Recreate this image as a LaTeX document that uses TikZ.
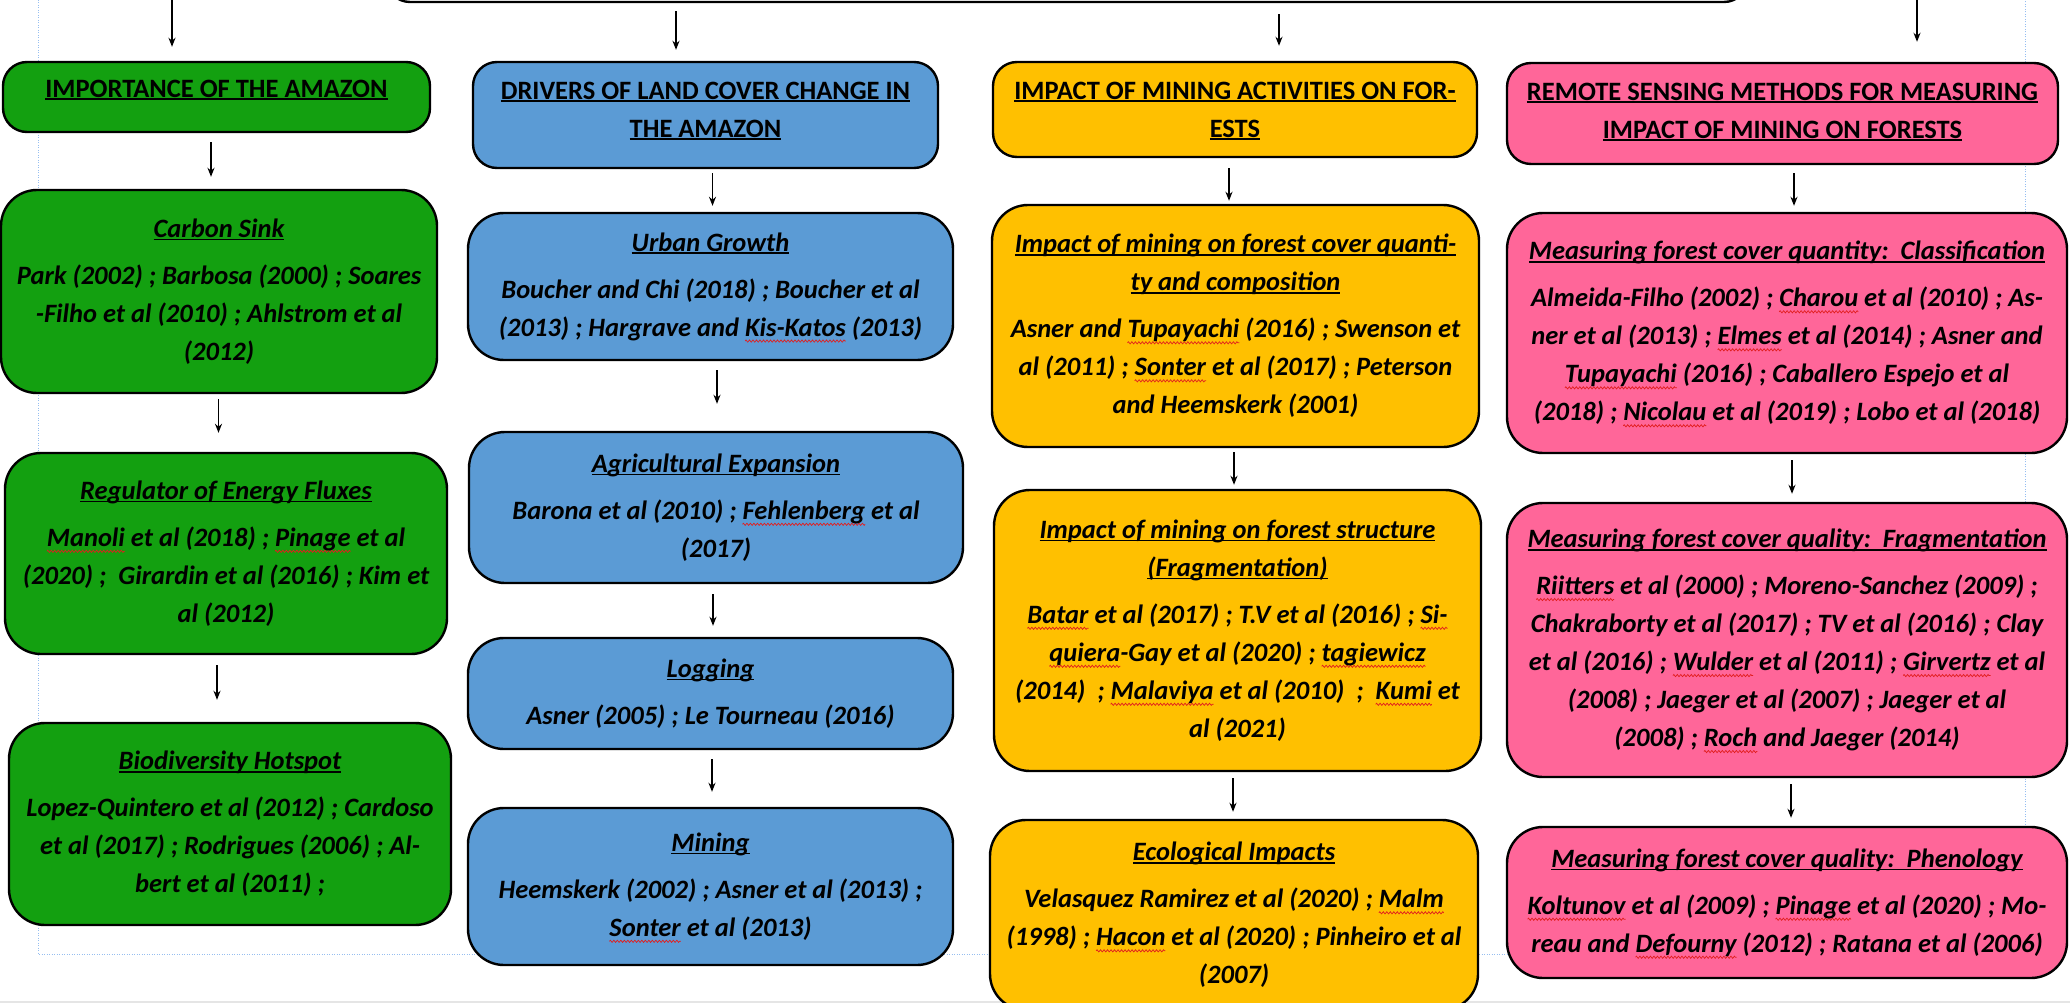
\documentclass[tikz,border=0pt]{standalone}
\usepackage{fontspec}
\setmainfont{Carlito}
\usetikzlibrary{arrows.meta,decorations.pathmorphing}
\definecolor{amzgreen}{RGB}{19,160,16}
\definecolor{amzblue}{RGB}{91,155,213}
\definecolor{amzgold}{RGB}{255,192,0}
\definecolor{amzpink}{RGB}{255,102,153}
\definecolor{marginblue}{RGB}{150,190,240}
\definecolor{spellred}{RGB}{225,30,30}
\newsavebox\sqbox
\newsavebox\ulbox
\newcommand\sq[1]{\sbox\sqbox{#1}\rlap{\tikz[baseline=0pt,x=1pt,y=1pt,sharp corners]{\useasboundingbox (0,0); \draw[spellred, line width=0.7pt, sharp corners, decorate, decoration={zigzag, segment length=3.5pt, amplitude=1.1pt}] (0,-5) -- (\wd\sqbox,-5);}}\usebox\sqbox}
\newcommand\uln[1]{\sbox\ulbox{#1}\rlap{\rule[-0.12em]{\wd\ulbox}{0.07em}}\usebox\ulbox}
\newcommand\cfont{\fontsize{26.5}{38}\selectfont\bfseries\itshape}
\newcommand\hfont{\fontsize{26.5}{38}\selectfont\bfseries}
\begin{document}
\begin{tikzpicture}[x=1pt,y=-1pt,
  box/.style={draw=black, line width=2.4pt, rounded corners=36pt, align=center, inner sep=0pt, font=\cfont},
  headbox/.style={draw=black, line width=2.4pt, rounded corners=24pt, inner sep=0pt},
  htext/.style={align=center, inner sep=0pt, font=\hfont},
  gbox/.style={box, fill=amzgreen},
  bbox/.style={box, fill=amzblue},
  ybox/.style={box, fill=amzgold},
  pbox/.style={box, fill=amzpink},
  arr/.style={-{Stealth[length=9pt,width=7pt]}, line width=1.8pt, draw=black},
]
\useasboundingbox (0,0) rectangle (2070,1003);
\fill[white] (0,0) rectangle (2070,1003);
\clip (0,0) rectangle (2070,1003);
% page margin and bottom edge
\draw[marginblue, line width=1pt, dash pattern=on 1pt off 1.5pt] (38,0) -- (38,954) -- (2025,954) -- (2025,0);
\draw[gray!20, line width=2pt] (0,1002) -- (2070,1002);

% top box (cut off) and free arrow sources
\node[headbox, fill=white, minimum width=1362, minimum height=100] (top) at (1067,-48) {};
\coordinate (src1) at (172,-10);
\coordinate (src4) at (1917,-10);

% headers
\node[headbox, fill=amzgreen, minimum width=427, minimum height=70] (h1) at (216.5,97) {};
\node[headbox, fill=amzblue, minimum width=465, minimum height=106] (h2) at (705.5,115) {};
\node[headbox, fill=amzgold, minimum width=484, minimum height=95] (h3) at (1235,109.5) {};
\node[headbox, fill=amzpink, minimum width=551, minimum height=101] (h4) at (1782.5,113.5) {};
\node[htext] (h1t) at (216.5,90) {\uln{IMPORTANCE OF THE AMAZON}};
\node[htext] (h2t) at (705.5,111) {\uln{DRIVERS OF LAND COVER CHANGE IN}\\\uln{THE AMAZON}};
\node[htext] (h3t) at (1235,111) {\uln{IMPACT OF MINING ACTIVITIES ON FOR-}\\\uln{ESTS}};
\node[htext] (h4t) at (1782.5,112) {\uln{REMOTE SENSING METHODS FOR MEASURING}\\\uln{IMPACT OF MINING ON FORESTS}};

% green column
\node[gbox, minimum width=436, minimum height=203] (cs) at (219,291.5)
 {\uln{Carbon Sink}\\[9pt]Park (2002) ; Barbosa (2000) ; Soares\\-Filho et al (2010) ; Ahlstrom et al\\(2012)};
\node[gbox, minimum width=442, minimum height=201] (reg) at (226,553.5)
 {\uln{Regulator of Energy Fluxes}\\[9pt]\sq{Manoli} et al (2018) ; \sq{Pinage} et al\\(2020) ;\ \ Girardin et al (2016) ; Kim et\\al (2012)};
\node[gbox, minimum width=442, minimum height=202] (bio) at (230,824)
 {\uln{Biodiversity Hotspot}\\[9pt]Lopez-Quintero et al (2012) ; Cardoso\\et al (2017) ; Rodrigues (2006) ; Al-\\bert et al (2011) ;};

% blue column
\node[bbox, minimum width=485, minimum height=147] (ug) at (710.5,286.5)
 {\uln{Urban Growth}\\[9pt]Boucher and Chi (2018) ; Boucher et al\\(2013) ; Hargrave and \sq{Kis-Katos} (2013)};
\node[bbox, minimum width=494, minimum height=151] (ag) at (716,507.5)
 {\uln{Agricultural Expansion}\\[9pt]Barona et al (2010) ; \sq{Fehlenberg} et al\\(2017)};
\node[bbox, minimum width=485, minimum height=111] (log) at (710.5,693.5)
 {\uln{Logging}\\[9pt]Asner (2005) ; Le Tourneau (2016)};
\node[bbox, minimum width=485, minimum height=157] (min) at (710.5,886.5)
 {\uln{Mining}\\[9pt]Heemskerk (2002) ; Asner et al (2013) ;\\\sq{Sonter} et al (2013)};

% yellow column
\node[ybox, minimum width=487, minimum height=242] (y1) at (1235.5,326)
 {\uln{Impact of mining on forest cover quanti-}\\\uln{ty and composition}\\[9pt]Asner and \sq{Tupayachi} (2016) ; Swenson et\\al (2011) ; \sq{Sonter} et al (2017) ; Peterson\\and Heemskerk (2001)};
\node[ybox, minimum width=487, minimum height=281] (y2) at (1237.5,630.5)
 {\uln{Impact of mining on forest structure}\\\uln{(Fragmentation)}\\[9pt]\sq{Batar} et al (2017) ; T.V et al (2016) ; \sq{Si-}\\\sq{quiera}-Gay et al (2020) ; \sq{tagiewicz}\\(2014)\ \ ; \sq{Malaviya} et al (2010)\ \ ;\ \ \sq{Kumi} et\\al (2021)};
\node[ybox, minimum width=488, minimum height=190] (y3) at (1234,915)
 {\uln{Ecological Impacts}\\[9pt]Velasquez Ramirez et al (2020) ; \sq{Malm}\\(1998) ; \sq{Hacon} et al (2020) ; Pinheiro et al\\(2007)};

% pink column
\node[pbox, minimum width=560, minimum height=240] (p1) at (1787,333)
 {\uln{Measuring forest cover quantity:\ \ Classification}\\[9pt]Almeida-Filho (2002) ; \sq{Charou} et al (2010) ; As-\\ner et al (2013) ; \sq{Elmes} et al (2014) ; Asner and\\\sq{Tupayachi} (2016) ; Caballero Espejo et al\\(2018) ; \sq{Nicolau} et al (2019) ; Lobo et al (2018)};
\node[pbox, minimum width=560, minimum height=274] (p2) at (1787,640)
 {\uln{Measuring forest cover quality:\ \ Fragmentation}\\[9pt]\sq{Riitters} et al (2000) ; Moreno-Sanchez (2009) ;\\Chakraborty et al (2017) ; TV et al (2016) ; Clay\\et al (2016) ; \sq{Wulder} et al (2011) ; \sq{Girvertz} et al\\(2008) ; Jaeger et al (2007) ; Jaeger et al\\(2008) ; \sq{Roch} and Jaeger (2014)};
\node[pbox, minimum width=560, minimum height=151] (p3) at (1787,902.5)
 {\uln{Measuring forest cover quality:\ \ Phenology}\\[9pt]\sq{Koltunov} et al (2009) ; \sq{Pinage} et al (2020) ; Mo-\\reau and \sq{Defourny} (2012) ; Ratana et al (2006)};

% arrows from top
\draw[arr, shorten >=14pt] (src1) -- (src1 |- h1.north);
\draw[arr, shorten <=8pt, shorten >=11pt] ([xshift=-391pt]top.south) -- ([xshift=-391pt]top.south |- h2.north);
\draw[arr, shorten <=11pt, shorten >=15pt] ([xshift=212pt]top.south) -- ([xshift=212pt]top.south |- h3.north);
\draw[arr, shorten >=20pt] (src4) -- (src4 |- h4.north);

% green arrows
\draw[arr, shorten <=9pt, shorten >=12pt] ([xshift=-5.5pt]h1.south) -- ([xshift=-5.5pt]h1.south |- cs.north);
\draw[arr, shorten <=5pt, shorten >=19pt] ([xshift=-0.5pt]cs.south) -- ([xshift=-0.5pt]cs.south |- reg.north);
\draw[arr, shorten <=10pt, shorten >=22pt] ([xshift=-9pt]reg.south) -- ([xshift=-9pt]reg.south |- bio.north);
% blue arrows
\draw[arr, shorten <=4pt, shorten >=6pt] ([xshift=7pt]h2.south) -- ([xshift=7pt]h2.south |- ug.north);
\draw[arr, shorten <=9pt, shorten >=27pt] ([xshift=6.5pt]ug.south) -- ([xshift=6.5pt]ug.south |- ag.north);
\draw[arr, shorten <=10pt, shorten >=11pt] ([xshift=-3pt]ag.south) -- ([xshift=-3pt]ag.south |- log.north);
\draw[arr, shorten <=9pt, shorten >=15pt] ([xshift=1.5pt]log.south) -- ([xshift=1.5pt]log.south |- min.north);
% yellow arrows
\draw[arr, shorten <=10pt, shorten >=3pt] ([xshift=-6pt]h3.south) -- ([xshift=-6pt]h3.south |- y1.north);
\draw[arr, shorten <=4pt, shorten >=4pt] ([xshift=-1.5pt]y1.south) -- ([xshift=-1.5pt]y1.south |- y2.north);
\draw[arr, shorten <=6pt, shorten >=7pt] ([xshift=-4.5pt]y2.south) -- ([xshift=-4.5pt]y2.south |- y3.north);
% pink arrows
\draw[arr, shorten <=8pt, shorten >=6pt] ([xshift=11.5pt]h4.south) -- ([xshift=11.5pt]h4.south |- p1.north);
\draw[arr, shorten <=6pt, shorten >=8pt] ([xshift=5pt]p1.south) -- ([xshift=5pt]p1.south |- p2.north);
\draw[arr, shorten <=6pt, shorten >=8pt] ([xshift=4pt]p2.south) -- ([xshift=4pt]p2.south |- p3.north);
\end{tikzpicture}
\end{document}
